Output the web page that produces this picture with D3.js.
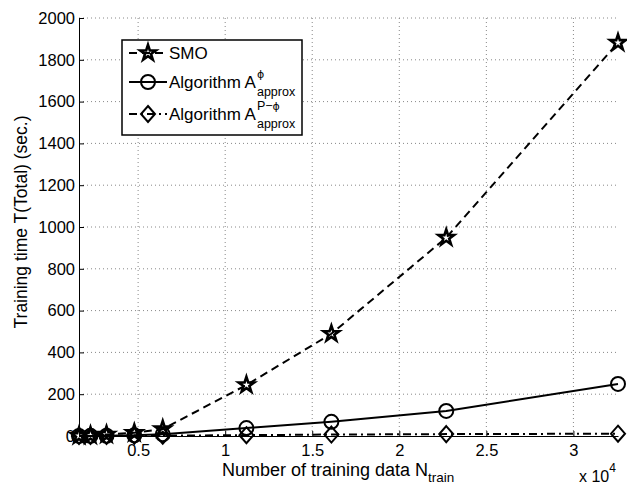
<!DOCTYPE html>
<html>
<head>
<meta charset="utf-8">
<script src="https://cdn.jsdelivr.net/npm/d3@7"></script>
<style>
  body { margin: 0; background: #fff; }
  text { font-family: "Liberation Sans", Arial, sans-serif; }
</style>
</head>
<body>
<div id="chart"></div>
<script>
// training set sizes (adult a1a..a9a)
var nTrain = [1605, 2265, 3185, 4781, 6414, 11220, 16100, 22696, 32561];
// training times (sec.)
var smoTime = [1, 3, 7, 15, 33, 244, 489, 949, 1882];
var phiTime = [0.3, 0.6, 1.2, 3, 8, 38, 68, 120, 249];
var pphiTime = [0.1, 0.2, 0.4, 0.8, 1.5, 4, 7, 9, 11];
var xTicks = [5000, 10000, 15000, 20000, 25000, 30000];
var yTicks = [0, 200, 400, 600, 800, 1000, 1200, 1400, 1600, 1800, 2000];

var width = 627, height = 485;
var plot = {left: 79, right: 618, top: 18, bottom: 436};

var svg = d3.select("#chart").append("svg")
    .attr("width", width)
    .attr("height", height);

var x = d3.scaleLinear().domain([1605, 32561]).range([plot.left, plot.right]);
var y = d3.scaleLinear().domain([0, 2000]).range([plot.bottom, plot.top]);

// dotted grid
svg.append("g").selectAll("line")
    .data(xTicks)
    .enter().append("line")
    .attr("x1", function(d) { return x(d); })
    .attr("x2", function(d) { return x(d); })
    .attr("y1", plot.top)
    .attr("y2", plot.bottom)
    .attr("stroke", "#888")
    .attr("stroke-width", 1)
    .attr("stroke-dasharray", "1,3");
svg.append("g").selectAll("line")
    .data(yTicks.slice(1))
    .enter().append("line")
    .attr("x1", plot.left)
    .attr("x2", plot.right)
    .attr("y1", function(d) { return y(d); })
    .attr("y2", function(d) { return y(d); })
    .attr("stroke", "#888")
    .attr("stroke-width", 1)
    .attr("stroke-dasharray", "1,3");

// axes, ticks pointing inward
var xAxis = svg.append("g")
    .attr("transform", "translate(0," + plot.bottom + ")")
    .call(d3.axisBottom(x).tickValues(xTicks)
        .tickFormat(function(d) { return d / 10000; })
        .tickSizeInner(-5).tickSizeOuter(0).tickPadding(8));
var yAxis = svg.append("g")
    .attr("transform", "translate(" + plot.left + ",0)")
    .call(d3.axisLeft(y).tickValues(yTicks)
        .tickFormat(d3.format("d"))
        .tickSizeInner(-5).tickSizeOuter(0).tickPadding(4));
[xAxis, yAxis].forEach(function(a) {
  a.selectAll("text").attr("font-size", 16.5).attr("fill", "#000")
      .attr("font-family", "Liberation Sans, Arial, sans-serif");
  a.selectAll("line").attr("stroke", "#000");
  a.select(".domain").attr("stroke", "#000").attr("stroke-width", 1);
});

// axis labels
svg.append("text")
    .attr("transform", "translate(27,222) rotate(-90)")
    .attr("text-anchor", "middle")
    .attr("font-size", 17.5)
    .text("Training time T(Total) (sec.)");

var xl = svg.append("text")
    .attr("x", 222)
    .attr("y", 476)
    .attr("font-size", 18);
xl.append("tspan").text("Number of training data N");
xl.append("tspan").attr("dy", 6).attr("font-size", 13.5).text("train");

var ex = svg.append("text")
    .attr("x", 579)
    .attr("y", 482)
    .attr("font-size", 16);
ex.append("tspan").text("x 10");
ex.append("tspan").attr("dy", -10).attr("font-size", 12).text("4");

// markers
var star = d3.symbol().type(d3.symbolStar).size(75);
var diamond = "M0,-8L7,0L0,8L-7,0Z";

var series = [
  {name: "SMO", values: smoTime, dash: "8,5", marker: "star"},
  {name: "phi", values: phiTime, dash: null, marker: "circle"},
  {name: "pphi", values: pphiTime, dash: "8,4,2,4", marker: "diamond"}
];

var line = d3.line()
    .x(function(d) { return x(d[0]); })
    .y(function(d) { return y(d[1]); });

function drawMarker(g, m) {
  if (m == "star")
    g.append("path").attr("d", star()).attr("stroke-width", 2.6);
  else if (m == "circle")
    g.append("circle").attr("r", 7).attr("stroke-width", 2);
  else
    g.append("path").attr("d", diamond).attr("stroke-width", 2);
  g.selectAll("*").attr("fill", "none").attr("stroke", "#000");
}

series.forEach(function(s) {
  var pts = nTrain.map(function(n, i) { return [n, s.values[i]]; });
  svg.append("path")
      .datum(pts)
      .attr("d", line)
      .attr("fill", "none")
      .attr("stroke", "#000")
      .attr("stroke-width", 2)
      .attr("stroke-dasharray", s.dash);
  pts.forEach(function(p) {
    var g = svg.append("g")
        .attr("transform", "translate(" + x(p[0]) + "," + y(p[1]) + ")");
    drawMarker(g, s.marker);
  });
});

// legend
var legend = svg.append("g");
legend.append("rect")
    .attr("x", 122).attr("y", 40)
    .attr("width", 180).attr("height", 95)
    .attr("fill", "#fff")
    .attr("stroke", "#000")
    .attr("stroke-width", 1.5);

var rowY = [53, 82, 114];
var baseY = [59, 88, 120];
series.forEach(function(s, i) {
  legend.append("line")
      .attr("x1", 129).attr("x2", 167)
      .attr("y1", rowY[i]).attr("y2", rowY[i])
      .attr("stroke", "#000").attr("stroke-width", 2)
      .attr("stroke-dasharray", s.dash);
  var g = legend.append("g").attr("transform", "translate(148," + rowY[i] + ")");
  drawMarker(g, s.marker);
});

legend.append("text").attr("x", 169).attr("y", baseY[0]).attr("font-size", 17).text("SMO");

function algoLabel(yb, sup) {
  var t = legend.append("text").attr("x", 169).attr("y", yb).attr("font-size", 17)
      .text("Algorithm A");
  var w = t.node().getComputedTextLength();
  var s = legend.append("text").attr("x", 169 + w + 1).attr("y", yb - 10)
      .attr("font-size", 12.5);
  s.append("tspan").text(sup);
  s.append("tspan").attr("font-family", "DejaVu Sans").attr("font-size", 11).text("\u03d5");
  legend.append("text").attr("x", 169 + w + 1).attr("y", yb + 8)
      .attr("font-size", 12.5).text("approx");
}
algoLabel(baseY[1], "");
algoLabel(baseY[2], "P\u2212");
</script>
</body>
</html>
